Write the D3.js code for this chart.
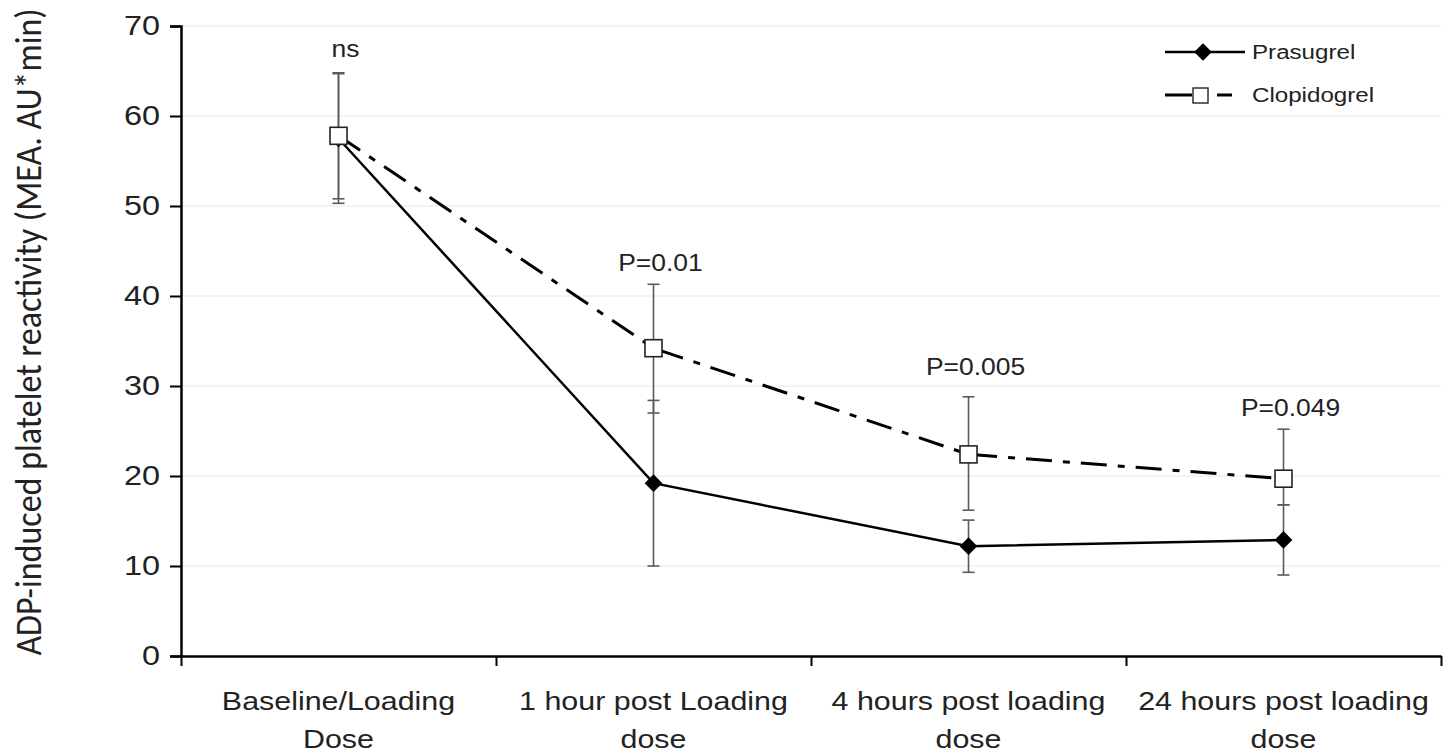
<!DOCTYPE html>
<html lang="en">
<head>
    <meta charset="UTF-8">
    <title>ADP-induced platelet reactivity</title>
    <script src="https://d3js.org/d3.v7.min.js"></script>
    <style>
body {
    margin: 0;
    background: #fff;
    font-family: "Liberation Sans", Arial, sans-serif;
}
svg {
    display: block;
}
    </style>
</head>
<body>
    <svg id="chart" width="1448" height="755"></svg>

    <script>
// data
const categories = [
    ["Baseline/Loading", "Dose"],
    ["1 hour post Loading", "dose"],
    ["4 hours post loading", "dose"],
    ["24 hours post loading", "dose"]
];
const prasugrelMean = [57.5, 19.2, 12.2, 12.9];
const prasugrelLow = [50.3, 10.0, 9.3, 9.0];
const prasugrelHigh = [64.7, 28.4, 15.1, 16.8];
const clopidogrelMean = [57.8, 34.2, 22.4, 19.7];
const clopidogrelLow = [50.8, 27.0, 16.2, 16.8];
const clopidogrelHigh = [64.8, 41.3, 28.8, 25.2];
const pLabels = ["ns", "P=0.01", "P=0.005", "P=0.049"];
const pLabelY = [66.6, 42.8, 31.2, 26.7];
const yTicks = [0, 10, 20, 30, 40, 50, 60, 70];

const width = 1448;
const height = 755;
const margin = { top: 26, right: 7, bottom: 99, left: 181 };
const stretch = 1.2; // the source figure is a bit wider than tall

const svg = d3.select("#chart");

const x = d3.scaleLinear().domain([0, categories.length]).range([margin.left, width - margin.right]);
const y = d3.scaleLinear().domain([0, 70]).range([height - margin.bottom, margin.top]);
const cx = i => x(i + 0.5);

// gridlines
svg.append("g")
    .selectAll("line")
    .data(yTicks.slice(1))
    .join("line")
    .attr("x1", margin.left)
    .attr("x2", width - margin.right)
    .attr("y1", d => y(d))
    .attr("y2", d => y(d))
    .attr("stroke", "#e8e8e8")
    .attr("stroke-width", 1);

// y axis
const yAxis = svg.append("g")
    .attr("transform", "translate(" + margin.left + ",0)")
    .call(d3.axisLeft(y).tickValues(yTicks).tickSize(11).tickPadding(10));
yAxis.select(".domain").attr("stroke-width", 2.5);
yAxis.selectAll(".tick line").attr("stroke-width", 2);
yAxis.selectAll("text")
    .attr("font-family", "Liberation Sans, Arial, sans-serif")
    .attr("font-size", 27)
    .attr("fill", "#222")
    .attr("x", -21 / stretch)
    .attr("transform", "scale(" + stretch + ",1)");

// x axis, ticks on category boundaries
const xAxis = svg.append("g")
    .attr("transform", "translate(0," + y(0) + ")")
    .call(d3.axisBottom(x).tickValues(d3.range(categories.length + 1)).tickSize(10).tickSizeOuter(0).tickFormat(""));
xAxis.select(".domain").attr("stroke-width", 2.5);
xAxis.selectAll(".tick line").attr("stroke-width", 2);

const xLabels = svg.append("g")
    .selectAll("text")
    .data(categories)
    .join("text")
    .attr("text-anchor", "middle")
    .attr("font-size", 26)
    .attr("fill", "#222")
    .attr("transform", (d, i) => "translate(" + cx(i) + "," + (y(0) + 54) + ") scale(1.17,1)");
xLabels.selectAll("tspan")
    .data(d => d)
    .join("tspan")
    .attr("x", 0)
    .attr("dy", (d, j) => j === 0 ? 0 : 38)
    .text(d => d);

// y axis title
svg.append("text")
    .attr("transform", "translate(41," + ((margin.top + y(0)) / 2 - 9) + ") rotate(-90) scale(1,1.1)")
    .attr("text-anchor", "middle")
    .attr("font-family", "Carlito, 'Open Sans', sans-serif")
    .attr("font-size", 34)
    .attr("fill", "#222")
    .text("ADP-induced platelet reactivity (MEA. AU*min)");

// error bars
function errorBars(mean, low, high) {
    const g = svg.append("g").attr("stroke", "#5a5a5a").attr("stroke-width", 1.6);
    g.selectAll("line.bar")
        .data(mean)
        .join("line")
        .attr("x1", (d, i) => cx(i))
        .attr("x2", (d, i) => cx(i))
        .attr("y1", (d, i) => y(low[i]))
        .attr("y2", (d, i) => y(high[i]));
    [low, high].forEach(arr => {
        g.append("g").selectAll("line")
            .data(arr)
            .join("line")
            .attr("x1", (d, i) => cx(i) - 6)
            .attr("x2", (d, i) => cx(i) + 6)
            .attr("y1", d => y(d))
            .attr("y2", d => y(d));
    });
}
errorBars(prasugrelMean, prasugrelLow, prasugrelHigh);
errorBars(clopidogrelMean, clopidogrelLow, clopidogrelHigh);

const line = d3.line().x((d, i) => cx(i)).y(d => y(d));
const dashPattern = "26,11,7,11";

svg.append("path")
    .datum(clopidogrelMean)
    .attr("fill", "none")
    .attr("stroke", "#000")
    .attr("stroke-width", 3)
    .attr("stroke-dasharray", dashPattern)
    .attr("d", line);

svg.append("path")
    .datum(prasugrelMean)
    .attr("fill", "none")
    .attr("stroke", "#000")
    .attr("stroke-width", 2.5)
    .attr("d", line);

const diamond = d3.symbol().type(d3.symbolDiamond2).size(200);

svg.append("g")
    .selectAll("path")
    .data(prasugrelMean)
    .join("path")
    .attr("transform", (d, i) => "translate(" + cx(i) + "," + y(d) + ")")
    .attr("d", diamond)
    .attr("fill", "#000");

svg.append("g")
    .selectAll("rect")
    .data(clopidogrelMean)
    .join("rect")
    .attr("x", (d, i) => cx(i) - 8.5)
    .attr("y", d => y(d) - 8.5)
    .attr("width", 17)
    .attr("height", 17)
    .attr("fill", "#fff")
    .attr("stroke", "#222")
    .attr("stroke-width", 1.6);

// significance labels
svg.append("g")
    .selectAll("text")
    .data(pLabels)
    .join("text")
    .attr("transform", (d, i) => "translate(" + (cx(i) + 7) + "," + y(pLabelY[i]) + ") scale(1.15,1)")
    .attr("text-anchor", "middle")
    .attr("font-size", 23)
    .attr("fill", "#222")
    .text(d => d);

// legend
const legend = svg.append("g").attr("transform", "translate(1165,52)");
legend.append("line")
    .attr("x1", 0).attr("x2", 80).attr("y1", 0).attr("y2", 0)
    .attr("stroke", "#000").attr("stroke-width", 2.5);
legend.append("path")
    .attr("transform", "translate(38,0)")
    .attr("d", diamond)
    .attr("fill", "#000");
legend.append("text")
    .attr("transform", "translate(87,7) scale(1.15,1)")
    .attr("font-size", 21)
    .attr("fill", "#222")
    .text("Prasugrel");

const leg2 = legend.append("g").attr("transform", "translate(0,43)");
leg2.append("line")
    .attr("x1", 0).attr("x2", 80).attr("y1", 0).attr("y2", 0)
    .attr("stroke", "#000").attr("stroke-width", 3)
    .attr("stroke-dasharray", "27,3,7,15,15");
leg2.append("rect")
    .attr("x", 28).attr("y", -7).attr("width", 15).attr("height", 15)
    .attr("fill", "#fff").attr("stroke", "#222").attr("stroke-width", 1.4);
leg2.append("text")
    .attr("transform", "translate(87,7) scale(1.15,1)")
    .attr("font-size", 21)
    .attr("fill", "#222")
    .text("Clopidogrel");
    </script>
</body>
</html>
